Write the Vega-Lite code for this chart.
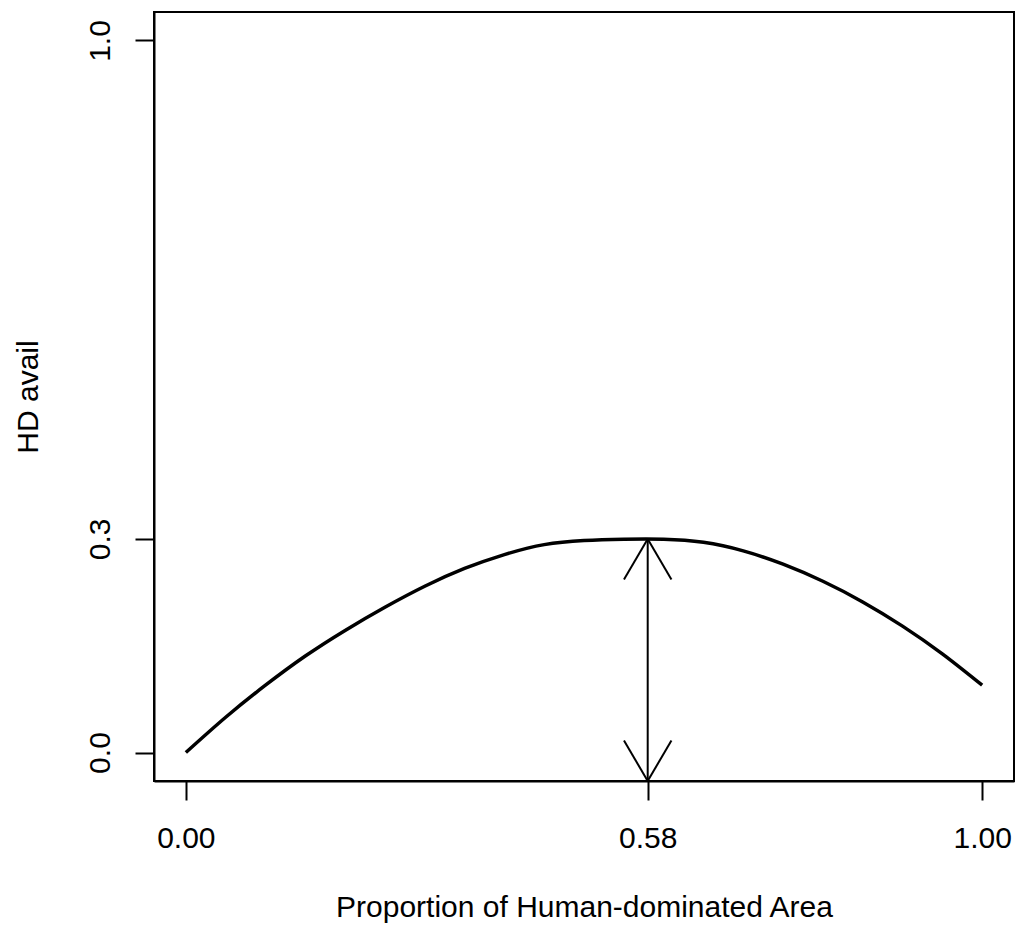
{
  "$schema": "https://vega.github.io/schema/vega-lite/v6.json",
  "width": 860,
  "height": 769,
  "autosize": {"type": "none"},
  "padding": {"left": 154, "top": 12, "right": 2, "bottom": 148},
  "background": "white",
  "config": {
    "view": {"stroke": "black", "strokeWidth": 2},
    "font": "Liberation Sans",
    "axis": {
      "grid": false,
      "domainColor": "black",
      "domainWidth": 2,
      "tickColor": "black",
      "tickWidth": 2,
      "tickSize": 19,
      "labelFont": "Liberation Sans",
      "labelFontSize": 30,
      "labelColor": "black",
      "labelOverlap": false,
      "labelFlush": false,
      "titleFont": "Liberation Sans",
      "titleFontSize": 30,
      "titleFontWeight": "normal",
      "titleColor": "black"
    }
  },
  "datasets": {
    "curve": [
      {"p": 0.00, "avail": 0.0000},
      {"p": 0.05, "avail": 0.0495},
      {"p": 0.10, "avail": 0.0945},
      {"p": 0.15, "avail": 0.1355},
      {"p": 0.20, "avail": 0.1715},
      {"p": 0.25, "avail": 0.2040},
      {"p": 0.30, "avail": 0.2335},
      {"p": 0.35, "avail": 0.2585},
      {"p": 0.40, "avail": 0.2780},
      {"p": 0.45, "avail": 0.2920},
      {"p": 0.50, "avail": 0.2978},
      {"p": 0.55, "avail": 0.2996},
      {"p": 0.60, "avail": 0.2996},
      {"p": 0.65, "avail": 0.2952},
      {"p": 0.70, "avail": 0.2832},
      {"p": 0.75, "avail": 0.2645},
      {"p": 0.80, "avail": 0.2405},
      {"p": 0.85, "avail": 0.2115},
      {"p": 0.90, "avail": 0.1775},
      {"p": 0.95, "avail": 0.1385},
      {"p": 1.00, "avail": 0.0945}
    ],
    "arrow": [
      {"x": 0.58, "y": 0.30, "x2": 0.58, "y2": -0.04},
      {"x": 0.58, "y": 0.30, "x2": 0.5502, "y2": 0.2431},
      {"x": 0.58, "y": 0.30, "x2": 0.6098, "y2": 0.2431},
      {"x": 0.58, "y": -0.04, "x2": 0.5502, "y2": 0.0169},
      {"x": 0.58, "y": -0.04, "x2": 0.6098, "y2": 0.0169}
    ]
  },
  "layer": [
    {
      "data": {"name": "curve"},
      "mark": {"type": "line", "color": "black", "strokeWidth": 3.5, "interpolate": "natural"},
      "encoding": {
        "x": {
          "field": "p",
          "type": "quantitative",
          "scale": {"domain": [-0.04, 1.04], "nice": false, "zero": false},
          "axis": {
            "values": [0, 0.58, 1],
            "format": ".2f",
            "labelBaseline": "alphabetic",
            "labelPadding": 47,
            "title": "Proportion of Human-dominated Area",
            "titleX": 430,
            "titleY": 135,
            "titleAlign": "center",
            "titleBaseline": "alphabetic"
          }
        },
        "y": {
          "field": "avail",
          "type": "quantitative",
          "scale": {"domain": [-0.04, 1.04], "nice": false, "zero": false},
          "axis": {
            "values": [0, 0.3, 1],
            "format": ".1f",
            "labelAngle": 270,
            "labelAlign": "center",
            "labelBaseline": "alphabetic",
            "labelPadding": 26,
            "title": "HD avail",
            "titleAngle": 270,
            "titleX": -117,
            "titleY": 384.5,
            "titleAlign": "center",
            "titleBaseline": "alphabetic"
          }
        }
      }
    },
    {
      "data": {"name": "arrow"},
      "mark": {"type": "rule", "color": "black", "strokeWidth": 2},
      "encoding": {
        "x": {"field": "x", "type": "quantitative"},
        "y": {"field": "y", "type": "quantitative"},
        "x2": {"field": "x2"},
        "y2": {"field": "y2"}
      }
    }
  ]
}
